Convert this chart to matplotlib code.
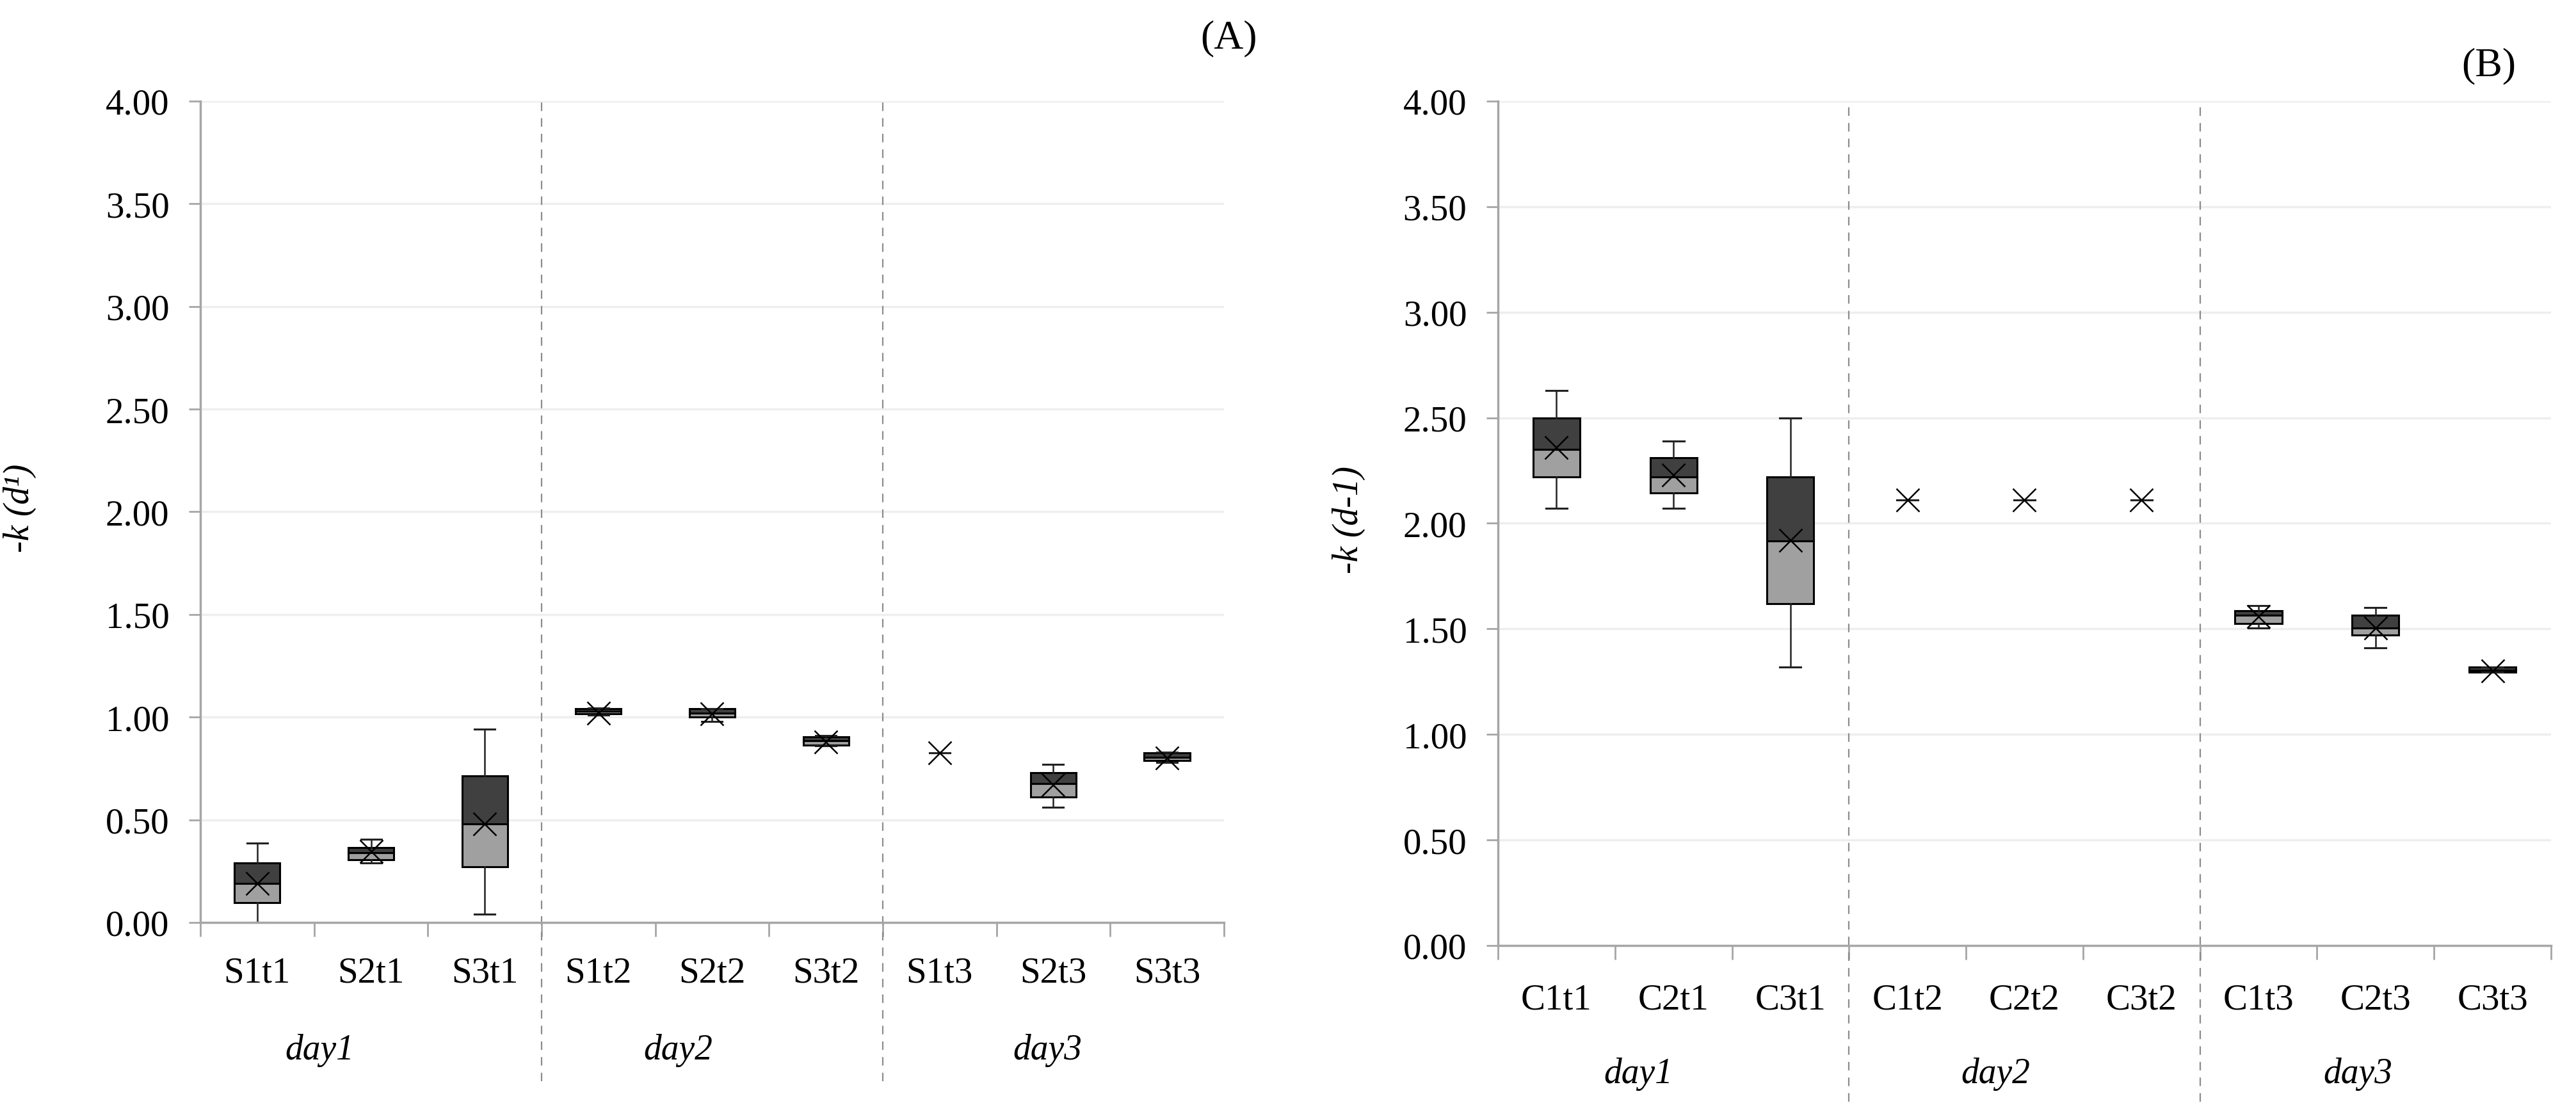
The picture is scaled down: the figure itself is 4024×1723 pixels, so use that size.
import numpy as np
import matplotlib
matplotlib.use('Agg')
import matplotlib.pyplot as plt

plt.rcParams['font.family'] = ['Liberation Serif', 'DejaVu Serif']

# Panel A
cat_a = ['S1t1', 'S2t1', 'S3t1', 'S1t2', 'S2t2', 'S3t2', 'S1t3', 'S2t3', 'S3t3']
a_whislo = [0.00, 0.29, 0.04, 1.01, 0.98, 0.86, 0.825, 0.56, 0.78]
a_q1 = [0.095, 0.305, 0.27, 1.015, 1.00, 0.865, 0.825, 0.61, 0.79]
a_med = [0.19, 0.34, 0.48, 1.03, 1.02, 0.885, 0.825, 0.675, 0.805]
a_q3 = [0.29, 0.365, 0.715, 1.04, 1.04, 0.905, 0.825, 0.73, 0.825]
a_whishi = [0.385, 0.405, 0.94, 1.045, 1.04, 0.91, 0.825, 0.77, 0.83]
a_mean = [0.19, 0.345, 0.48, 1.02, 1.015, 0.88, 0.825, 0.67, 0.80]

# Panel B
cat_b = ['C1t1', 'C2t1', 'C3t1', 'C1t2', 'C2t2', 'C3t2', 'C1t3', 'C2t3', 'C3t3']
b_whislo = [2.07, 2.07, 1.32, 2.11, 2.11, 2.11, 1.505, 1.41, 1.295]
b_q1 = [2.22, 2.145, 1.62, 2.11, 2.11, 2.11, 1.525, 1.47, 1.295]
b_med = [2.35, 2.22, 1.915, 2.11, 2.11, 2.11, 1.565, 1.505, 1.305]
b_q3 = [2.50, 2.31, 2.22, 2.11, 2.11, 2.11, 1.585, 1.565, 1.32]
b_whishi = [2.63, 2.39, 2.50, 2.11, 2.11, 2.11, 1.61, 1.60, 1.32]
b_mean = [2.36, 2.23, 1.92, 2.11, 2.11, 2.11, 1.56, 1.505, 1.30]

days = ['day1', 'day2', 'day3']
yticks = [0, 0.5, 1, 1.5, 2, 2.5, 3, 3.5, 4]

fig = plt.figure(figsize=(40.24, 17.24), dpi=100)
ax_a = fig.add_axes([0.0778, 0.1636, 0.3973, 0.7442])
ax_b = fig.add_axes([0.5815, 0.1427, 0.4088, 0.7651])


def panel(ax, cats, whislo, q1, med, q3, whishi, mean, ylab, lab_y, day_x, day_y, sep_bottom, ylab_x):
    pos = np.arange(len(cats))
    q1 = np.array(q1)
    med = np.array(med)
    q3 = np.array(q3)
    has_box = q3 > q1

    # caja en dos tonos
    ax.bar(pos[has_box], (med - q1)[has_box], bottom=q1[has_box], width=0.4,
           color='#a0a0a0', edgecolor='black', linewidth=2.2, zorder=2)
    ax.bar(pos[has_box], (q3 - med)[has_box], bottom=med[has_box], width=0.4,
           color='#404040', edgecolor='black', linewidth=2.2, zorder=2)

    stats = []
    for i in range(len(cats)):
        stats.append({'whislo': whislo[i], 'q1': q1[i], 'med': med[i], 'q3': q3[i],
                      'whishi': whishi[i], 'mean': mean[i], 'fliers': []})
    ax.bxp(stats, positions=pos, widths=0.4, capwidths=0.18, showbox=False,
           showmeans=True, showfliers=False, manage_ticks=False,
           medianprops=dict(linestyle='none'),
           whiskerprops=dict(color='#222222', linewidth=1.8),
           capprops=dict(color='#222222', linewidth=2.2),
           meanprops=dict(marker='x', markersize=26, markeredgecolor='black',
                          markeredgewidth=1.8, linestyle='none'))

    ax.set_xlim(-0.5, len(cats) - 0.5)
    ax.set_ylim(0, 4)
    ax.set_yticks(yticks)
    ax.set_yticklabels(['%.2f' % v for v in yticks])
    ax.set_xticks(np.arange(-0.5, len(cats), 1.0))
    ax.set_xticklabels([])
    ax.grid(axis='y', color='#eeeeee', linewidth=2.5)
    ax.set_axisbelow(True)
    for s in ['top', 'right']:
        ax.spines[s].set_visible(False)
    for s in ['left', 'bottom']:
        ax.spines[s].set_color('#a6a6a6')
        ax.spines[s].set_linewidth(2.5)
    ax.tick_params(axis='y', direction='out', length=13, width=2, color='#a6a6a6',
                   labelsize=41, pad=22)
    ax.tick_params(axis='x', direction='out', length=16, width=2, color='#a6a6a6')

    for i, c in enumerate(cats):
        ax.text(pos[i], lab_y, c, transform=ax.get_xaxis_transform(),
                ha='center', va='center', fontsize=41)
    for d, x in zip(days, day_x):
        ax.text(x, day_y, d, transform=ax.get_xaxis_transform(),
                ha='center', va='center', fontsize=40, style='italic')

    for x in [2.5, 5.5]:
        ax.axvline(x, ymin=sep_bottom, ymax=1, color='#8c8c8c', linewidth=1.6,
                   dashes=(6, 5), clip_on=False)

    ax.set_ylabel(ylab, fontsize=40, style='italic')
    ax.yaxis.set_label_coords(ylab_x, 0.505)


panel(ax_a, cat_a, a_whislo, a_q1, a_med, a_q3, a_whishi, a_mean,
      '-k (d\u00b9)', -0.061, [0.55, 3.7, 6.95], -0.155, -0.193, -0.16)
panel(ax_b, cat_b, b_whislo, b_q1, b_med, b_q3, b_whishi, b_mean,
      '-k (d-1)', -0.064, [0.7, 3.75, 6.85], -0.152, -0.185, -0.126)

fig.text(1964 / 4024, 1 - 60 / 1724, '(A)', ha='right', va='center', fontsize=46)
fig.text(3888 / 4024, 1 - 103 / 1724, '(B)', ha='center', va='center', fontsize=46)

fig.savefig('out.png', dpi=100)
